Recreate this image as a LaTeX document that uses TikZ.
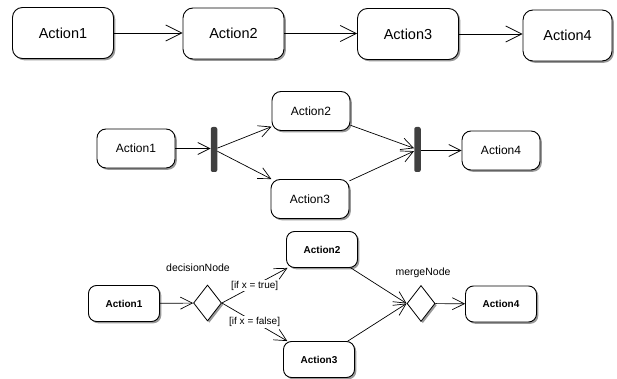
\documentclass[tikz,border=0pt]{standalone}
\usepackage{fontspec}
\setmainfont{Liberation Sans}
\usetikzlibrary{arrows.meta}
\usetikzlibrary{shapes.geometric}
\usetikzlibrary{shadows}

\begin{document}
\begin{tikzpicture}
[x=1pt,y=-1pt,%
  every node/.style={inner sep=0pt},%
  act/.style={shape=rectangle,draw,fill=white,line width=0.9pt,%
    drop shadow={shadow xshift=1.8pt,shadow yshift=-1.8pt,fill=black!40,opacity=1}},%
  actbig/.style={act,rounded corners=10pt,minimum width=101pt,minimum height=51pt,%
    font=\fontsize{14.5}{16}\selectfont},%
  actmid/.style={act,rounded corners=9pt,minimum width=78pt,minimum height=39pt,%
    font=\fontsize{12}{14}\selectfont},%
  actsmall/.style={act,rounded corners=8pt,minimum width=71pt,minimum height=36pt,%
    font=\fontsize{10}{12}\selectfont\bfseries},%
  bar/.style={shape=rectangle,fill=black!75,rounded corners=2pt,minimum width=6.5pt,minimum height=45pt},%
  choice/.style={shape=diamond,draw,fill=white,line width=0.8pt,minimum width=28pt,minimum height=36pt,%
    drop shadow={shadow xshift=1.8pt,shadow yshift=-1.8pt,fill=black!40,opacity=1}},%
  guard/.style={fill=white,inner sep=1pt,font=\fontsize{10}{12}\selectfont},%
  tag/.style={font=\fontsize{10.5}{12}\selectfont},%
  flowbig/.style={-{Straight Barb[length=16pt,width=16pt]},line width=0.8pt},%
  flow/.style={-{Straight Barb[length=12pt,width=12pt]},line width=0.7pt}]
\useasboundingbox (0,0) rectangle (617,379);

% sequence
\node[actbig] (r1a1) at (63,33) {Action1};
\node[actbig] (r1a2) at (233.5,33.5) {Action2};
\node[actbig] (r1a3) at (408,34) {Action3};
\node[actbig,minimum width=89pt] (r1a4) at (567.5,35.5) {Action4};
\draw[flowbig] (r1a1) -- (r1a1 -| r1a2.west);
\draw[flowbig] (r1a2) -- (r1a2 -| r1a3.west);
\draw[flowbig] (r1a3.east) -- (r1a3.east -| r1a4.west);

% fork / join
\node[actmid] (r2a1) at (136,148.5) {Action1};
\node[bar] (fork) at (214,149.5) {};
\node[actmid] (r2a2) at (311,111) {Action2};
\node[actmid] (r2a3) at (310,199) {Action3};
\node[bar] (join) at (417.5,149.5) {};
\node[actmid] (r2a4) at (501,150.5) {Action4};
\draw[flow] (r2a1) -- (r2a1 -| fork.west);
\draw[flow] (fork) -- (r2a2);
\draw[flow] (fork) -- (r2a3);
\draw[flow] (r2a2) -- (join);
\draw[flow] (r2a3) -- (join);
\draw[flow] (join.east |- r2a4) -- (r2a4);

% decision / merge
\node[actsmall] (r3a1) at (124,303.5) {Action1};
\node[choice] (dec) at (207.5,303) {};
\node[tag] (decname) at (198,268) {decisionNode};
\node[actsmall] (r3a2) at (322,249.5) {Action2};
\node[actsmall] (r3a3) at (319,359.5) {Action3};
\node[choice] (mrg) at (421,303.5) {};
\node[tag] (mrgname) at (423,273) {mergeNode};
\node[actsmall] (r3a4) at (501,304) {Action4};
\draw[flow] (r3a1) -- (dec);
\draw[flow] (dec.east) -- node[guard] {[if x = true]} (r3a2);
\draw[flow] (dec.east) -- node[guard] {[if x = false]} (r3a3);
\draw[flow] (r3a2) -- (mrg.west);
\draw[flow] (r3a3) -- (mrg.west);
\draw[flow] (mrg) -- (r3a4);
\end{tikzpicture}
\end{document}
